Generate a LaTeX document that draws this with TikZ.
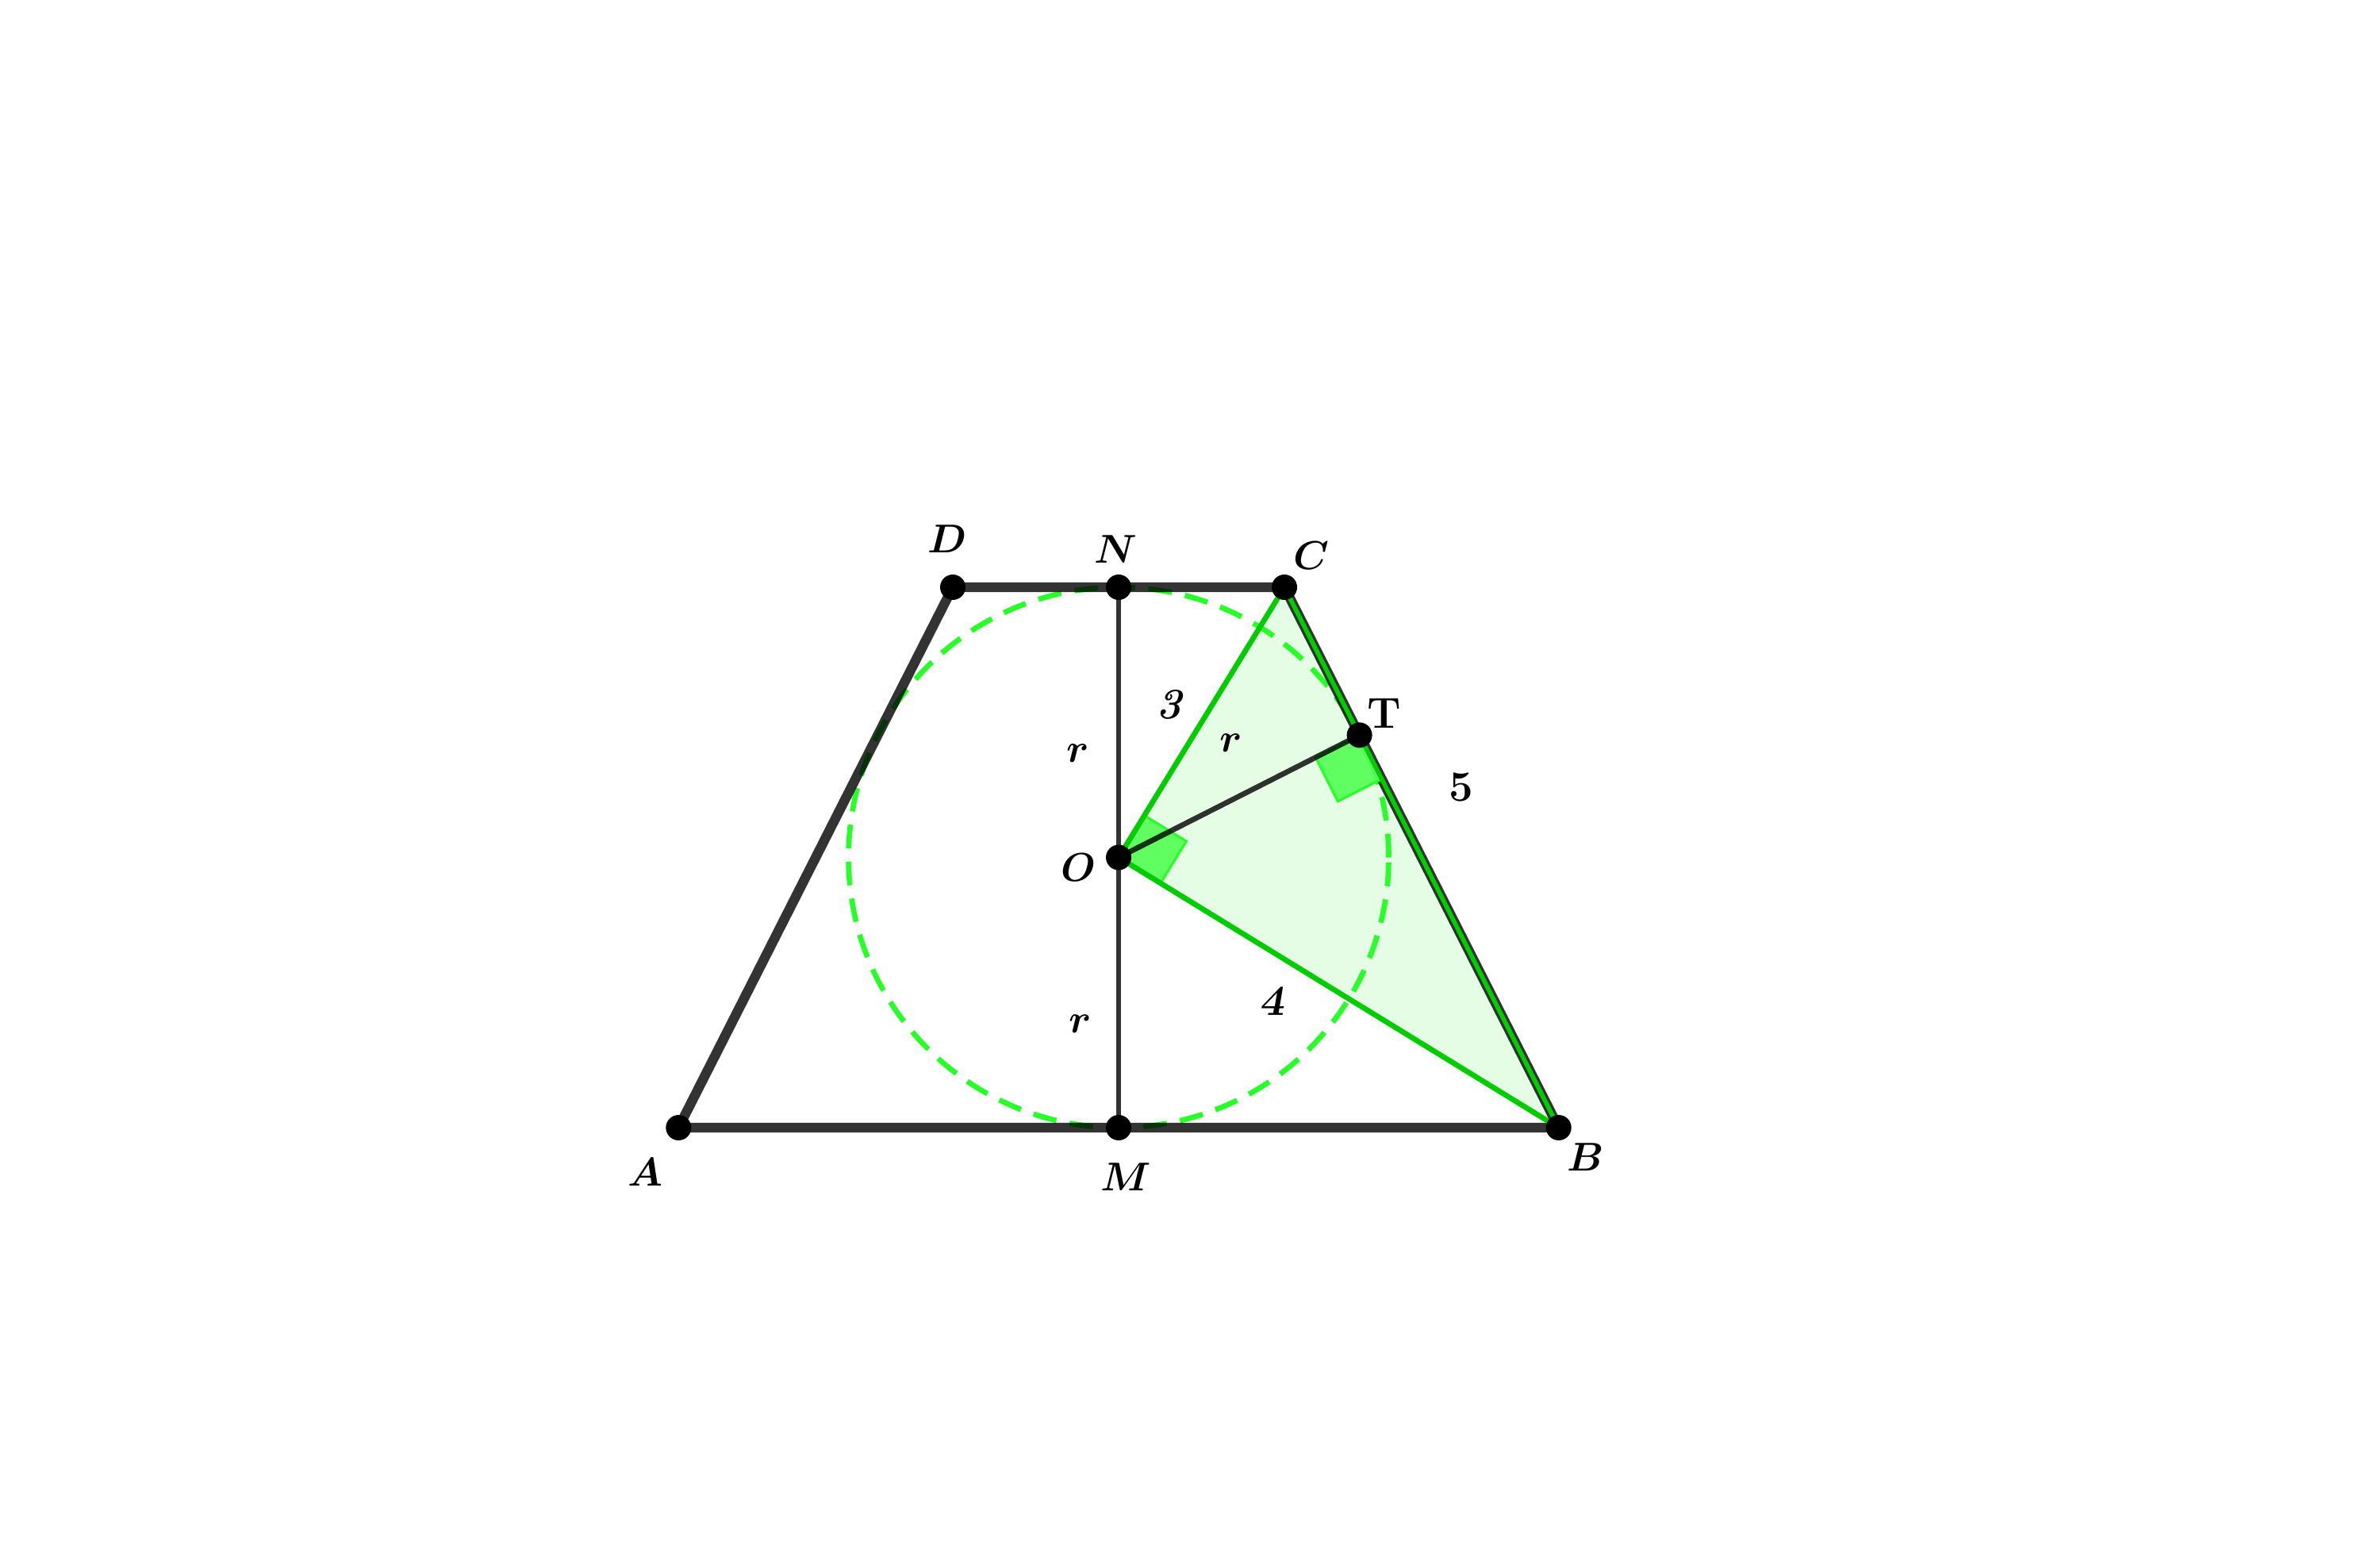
\documentclass[tikz,border=0pt]{standalone}
\usepackage{amsmath}
\usepackage{bm}
\usetikzlibrary{calc}
\definecolor{trigreen}{RGB}{0,204,0}
\definecolor{circgreen}{RGB}{40,255,40}
\definecolor{trifill}{RGB}{229,252,229}
\definecolor{sqfill}{RGB}{90,255,90}
\tikzset{
  side/.style={draw=black, draw opacity=0.8, line width=3.5pt},
  thinside/.style={draw=black, draw opacity=0.8, line width=1.9pt},
  greenside/.style={draw=trigreen, line width=1.9pt},
  dot/.style={circle, fill=black, inner sep=0pt, minimum size=0.32cm},
  lab/.style={inner sep=0pt, font=\fontsize{15.5}{18}\selectfont},
  sq/.style={fill=sqfill, draw=circgreen, line width=0.9pt, fill opacity=0.95}
}
\begin{document}
\begin{tikzpicture}
\useasboundingbox (0,0) rectangle (30,19.56);
% points
\coordinate (O) at (14.10,8.755);
\coordinate (N) at (14.10,12.16);
\coordinate (M) at (14.10,5.35);
\coordinate (C) at (16.19,12.16);
\coordinate (D) at (12.01,12.16);
\coordinate (B) at (19.647,5.35);
\coordinate (A) at (8.553,5.35);
\coordinate (T) at ($(C)!(O)!(B)$);
% right-angle helpers
\coordinate (o1) at ($(O)!0.62cm!(C)$);
\coordinate (o2) at ($(O)!0.62cm!(B)$);
\coordinate (o3) at ($(o1)+(o2)-(O)$);
\coordinate (t1) at ($(T)!0.62cm!(O)$);
\coordinate (t2) at ($(T)!0.62cm!(B)$);
\coordinate (t3) at ($(t1)+(t2)-(T)$);
% triangle fill
\fill[trifill] (O) -- (C) -- (B) -- cycle;
% incircle
\draw[circgreen, line width=1.9pt, dash pattern=on 8.5pt off 4.8pt] (O) circle (3.405);
% trapezoid
\draw[side, line join=round] (A) -- (B) -- (C) -- (D) -- cycle;
\draw[thinside] (N) -- (M);
% right angle marks
\draw[sq] (O) -- (o1) -- (o3) -- (o2) -- cycle;
\draw[sq] (T) -- (t1) -- (t3) -- (t2) -- cycle;
% triangle sides
\draw[greenside] (O) -- (C);
\draw[greenside] (O) -- (B);
\draw[draw=trigreen, line width=1.6pt] (C) -- (B);
\draw[thinside] (O) -- (T);
% dots
\foreach \p in {A,B,C,D,N,M,O,T}
  \node[dot] (d\p) at (\p) {};
% labels
\node[lab] (lA) at (8.13,4.79) {$\bm{A}$};
\node[lab] (lB) at (19.99,4.98) {$\bm{B}$};
\node[lab] (lC) at (16.53,12.56) {$\bm{C}$};
\node[lab] (lD) at (11.94,12.77) {$\bm{D}$};
\node[lab] (lN) at (14.06,12.64) {$\bm{N}$};
\node[lab] (lM) at (14.19,4.73) {$\bm{M}$};
\node[lab] (lO) at (13.59,8.63) {$\bm{O}$};
\node[lab] (lT) at (17.45,10.57) {\textbf{T}};
\node[lab] (l5) at (18.42,9.64) {\textbf{5}};
\node[lab] (l3) at (14.75,10.68) {\textbf{\textit{3}}};
\node[lab] (lr1) at (13.59,10.07) {$\bm{r}$};
\node[lab] (lr2) at (15.52,10.20) {$\bm{r}$};
\node[lab] (lr3) at (13.62,6.66) {$\bm{r}$};
\node[lab] (l4) at (16.03,6.94) {\textbf{\textsl{4}}};
\end{tikzpicture}
\end{document}
